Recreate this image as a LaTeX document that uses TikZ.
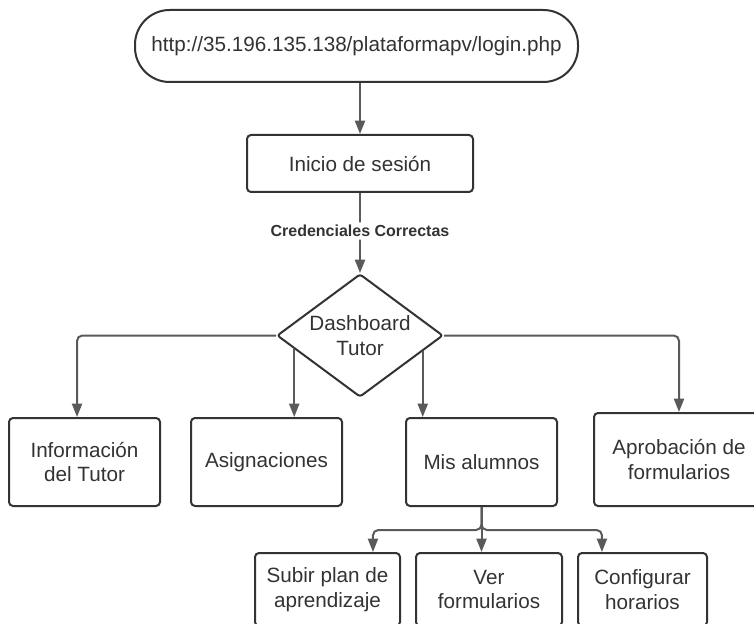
\documentclass[tikz,border=0pt]{standalone}
\usepackage{fontspec}
\setmainfont{Liberation Sans}
\usetikzlibrary{shapes.geometric, arrows.meta, calc}
\definecolor{ink}{HTML}{333333}
\definecolor{wire}{HTML}{5A5A5A}
\begin{document}
\begin{tikzpicture}[x=0.75pt, y=-0.75pt,
  box/.style={draw=ink, line width=1.5pt, rounded corners=3pt, inner sep=0pt, align=center, text=ink, font=\fontsize{15.5}{18.5}\selectfont},
  sz/.style 2 args={minimum width={(#1)*0.75pt}, minimum height={(#2)*0.75pt}},
  wirearrow/.style={draw=wire, line width=1.5pt, -{Triangle[width=7.5pt,length=10pt]}, rounded corners=4pt},
  lbl/.style={fill=white, inner sep=2pt, text=ink, font=\bfseries\fontsize{12}{14}\selectfont},
]
\useasboundingbox (0,0) rectangle (754,624);
\fill[white] (0,0) rectangle (754,624);

\node[box, rounded corners=26pt, sz={443}{72}] (url) at (356.5,46) {http://35.196.135.138/plataformapv/login.php};
\node[box, sz={226}{57}] (ini) at (360,163.5) {Inicio de sesión};
\node[diamond, draw=ink, line width=1.5pt, rounded corners=2pt, inner sep=0pt, sz={166}{123}] (d) at (360,335.5) {};
\node[align=center, text=ink, font=\fontsize{15.5}{18.5}\selectfont] (dt) at (d.center) {Dashboard\\Tutor};

\node[box, sz={151}{88}] (info) at (84.5,462) {Información\\del Tutor};
\node[box, sz={151}{88}] (asig) at (266.5,462) {Asignaciones};
\node[box, sz={151}{88}] (mis) at (481.5,462) {Mis alumnos};
\node[box, sz={170}{93}] (apr) at (679,459.5) {Aprobación de\\formularios};

\node[box, sz={145}{73}] (sub) at (327.5,589.5) {Subir plan de\\aprendizaje};
\node[box, sz={146}{73}] (ver) at (489,589.5) {Ver\\formularios};
\node[box, sz={129}{73}] (cfg) at (642.5,589.5) {Configurar\\horarios};

\draw[wirearrow] (url.south -| ini.north) -- (ini.north);
\draw[wirearrow] (ini.south) -- node[lbl, pos=0.475] (cred) {Credenciales Correctas} (d.north);

\draw[wirearrow] (d.west) -| ([xshift=-5.6pt]info.north);
\draw[wirearrow] (d.east) -| (apr.north);
\coordinate (as) at ($(d.west)!0.217!(d.south)$);
\coordinate (ms) at ($(d.east)!0.253!(d.south)$);
\draw[wirearrow] (as) -- (as |- asig.north);
\draw[wirearrow] (ms) -- (ms |- mis.north);

\coordinate (jn) at ($(mis.south)+(0,23)$);
\draw[wirearrow] (mis.south) -- (jn) -| ([xshift=34.1pt]sub.north);
\draw[wirearrow] (mis.south) -- (jn) -| ([xshift=-30.4pt]cfg.north);
\draw[wirearrow] (mis.south) -- (mis.south |- ver.north);
\end{tikzpicture}
\end{document}
